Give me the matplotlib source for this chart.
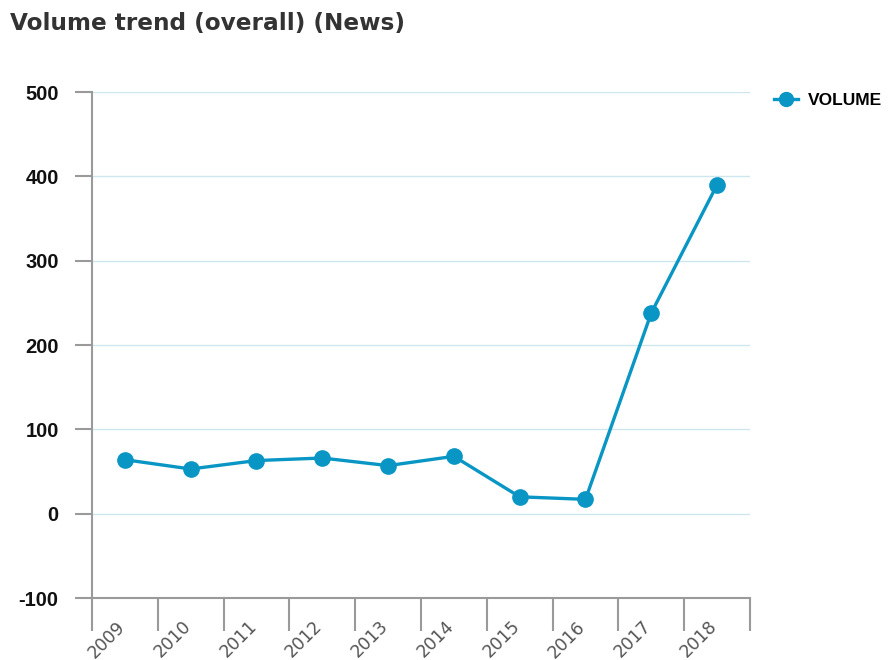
import numpy as np
import matplotlib.pyplot as plt
import matplotlib.transforms as mtransforms
from matplotlib.lines import Line2D

years = ['2009', '2010', '2011', '2012', '2013', '2014', '2015', '2016', '2017', '2018']
volume = [64, 53, 63, 66, 57, 68, 20, 17, 238, 390]
yticks = [-100, 0, 100, 200, 300, 400, 500]

line_color = '#0996c4'
axis_color = '#9a9a9a'

plt.rcParams['font.family'] = 'DejaVu Sans'

fig = plt.figure(figsize=(8.92, 6.6), dpi=100)
ax = fig.add_axes([0.1031, 0.0939, 0.7377, 0.7667])

x = np.arange(len(years))
ax.plot(x, volume, color=line_color, linewidth=2.4, marker='o', markersize=11,
        zorder=3, clip_on=False)

ax.set_xlim(-0.5, len(years) - 0.5)
ax.set_ylim(-100, 500)
ax.set_yticks(yticks)
ax.set_yticklabels([str(v) for v in yticks], fontweight='bold', fontsize=14.5,
                   color='#111111', family='Liberation Sans')
for v in yticks[1:]:
    ax.axhline(v, color='#cfe6ee', linewidth=1, zorder=1)

ax.set_xticks(x)
ax.set_xticklabels(years, rotation=45, ha='right', rotation_mode='anchor',
                   fontsize=12.5, color='#555555')
ax.tick_params(axis='x', which='major', length=0, pad=14)
ax.set_xticks(np.arange(-0.5, len(years), 1), minor=True)
ax.tick_params(axis='x', which='minor', length=24, width=1.5, color=axis_color)
ax.tick_params(axis='y', length=12, width=1.5, color=axis_color, pad=12)

# nudge the rotated labels a little to the left
shift = mtransforms.ScaledTranslation(-9 / 100, 0, fig.dpi_scale_trans)
for lbl in ax.get_xticklabels():
    lbl.set_transform(lbl.get_transform() + shift)

for s in ['top', 'right']:
    ax.spines[s].set_visible(False)
for s in ['left', 'bottom']:
    ax.spines[s].set_color(axis_color)
    ax.spines[s].set_linewidth(1.5)

fig.text(0.011, 0.965, 'Volume trend (overall) (News)', fontsize=16.7, fontweight='bold',
         color='#333333', va='center', ha='left')

handle = Line2D([0], [0], color=line_color, linewidth=2.4, marker='o', markersize=10)
ax.legend([handle], ['VOLUME'], loc='upper left', bbox_to_anchor=(1.012, 1.03),
          frameon=False, handlelength=1.4, handletextpad=0.6,
          prop={'weight': 'bold', 'size': 12.5, 'family': 'Liberation Sans'})

fig.savefig('out.png', dpi=100)
